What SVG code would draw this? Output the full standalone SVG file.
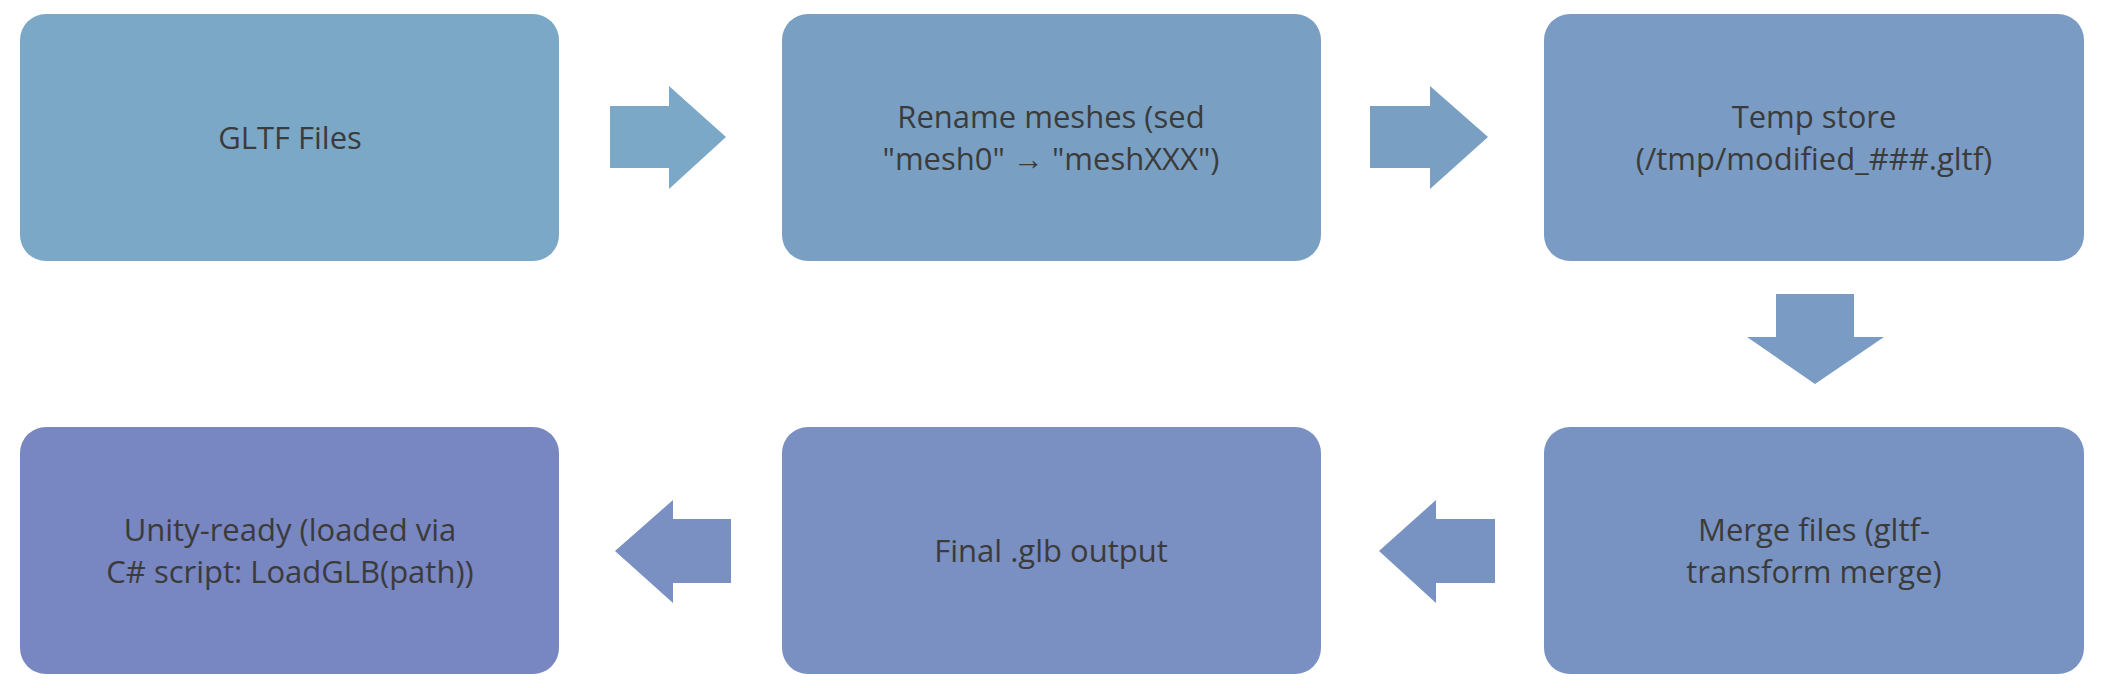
<svg xmlns="http://www.w3.org/2000/svg" width="2102" height="688" viewBox="0 0 2102 688">
<style>
text{font-family:"Open Sans","Liberation Sans",sans-serif;font-size:31px;fill:#3b3b3b;text-anchor:middle;dominant-baseline:central}
</style>
<rect width="2102" height="688" fill="#fff"/>
<g id="n1"><rect x="20" y="14" width="539" height="247" rx="26" fill="#7BA8C6"/><text x="290" y="137">GLTF Files</text></g>
<g id="n2"><rect x="782" y="14" width="539" height="247" rx="26" fill="#79A0C2"/><text x="1051" y="116">Rename meshes (sed</text><text x="1051" y="158">"mesh0" → "meshXXX")</text></g>
<g id="n3"><rect x="1544" y="14" width="540" height="247" rx="26" fill="#7A9BC4"/><text x="1814" y="116">Temp store</text><text x="1814" y="158">(/tmp/modified_###.gltf)</text></g>
<g id="n4"><rect x="1544" y="427" width="540" height="247" rx="26" fill="#7893C2"/><text x="1814" y="529">Merge files (gltf-</text><text x="1814" y="571">transform merge)</text></g>
<g id="n5"><rect x="782" y="427" width="539" height="247" rx="26" fill="#7A8FC2"/><text x="1051" y="550">Final .glb output</text></g>
<g id="n6"><rect x="20" y="427" width="539" height="247" rx="26" fill="#7886C2"/><text x="290" y="529">Unity-ready (loaded via</text><text x="290" y="571">C# script: LoadGLB(path))</text></g>
<g id="connectors">
<polygon points="610,106 669,106 669,86 726,137 669,189 669,168 610,168" fill="#7BA8C6"/>
<polygon points="1370,106 1430,106 1430,86 1488,137 1430,189 1430,168 1370,168" fill="#79A0C2"/>
<polygon points="1776,294 1854,294 1854,337 1884,337 1815,384 1747,337 1776,337" fill="#7A9BC4"/>
<polygon points="1495,519 1436,519 1436,500 1379,551 1436,603 1436,583 1495,583" fill="#7893C2"/>
<polygon points="731,519 673,519 673,500 615,551 673,603 673,583 731,583" fill="#7A8FC2"/>
</g>
</svg>
